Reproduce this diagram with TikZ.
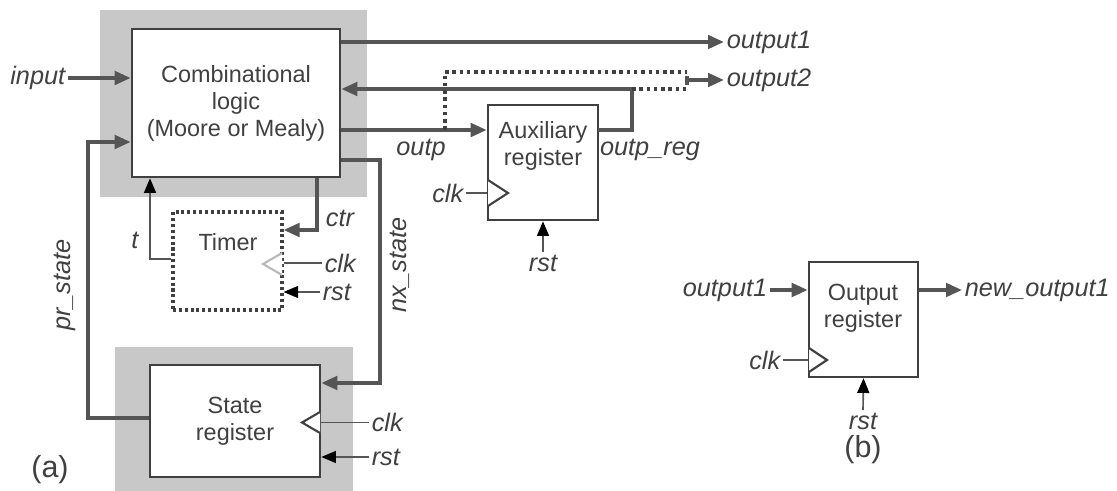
\documentclass[tikz,border=0pt]{standalone}
\usepackage{fontspec}
\setmainfont{Liberation Sans}
\usetikzlibrary{arrows.meta,positioning,calc}
\definecolor{wire}{HTML}{555555}
\definecolor{panelgray}{HTML}{C8C8C8}
\definecolor{ink}{HTML}{404040}

\begin{document}
\begin{tikzpicture}[
  x=0.015cm, y=-0.015cm,
  block/.style={rectangle, draw=ink, line width=1.1pt, fill=white, inner sep=0pt,
                align=center, text=ink, font=\fontsize{10}{11.5}\selectfont},
  btext/.style={align=center, text=ink, font=\fontsize{10}{11.5}\selectfont},
  bus/.style={draw=wire, line width=1.6pt},
  sig/.style={bus, -{Triangle[length=2.4mm,width=2mm]}},
  clkline/.style={draw=wire, line width=0.7pt},
  rstarrow/.style={clkline, -{Triangle[length=2.2mm,width=1.8mm,black]}},
  clktri/.style={draw=ink, line width=0.9pt, fill=white},
  dotwire/.style={draw=ink, line width=1.5pt, dash pattern=on 1.5pt off 1.6pt},
  lbl/.style={text=ink, font=\fontsize{10.8}{12}\selectfont\itshape, inner sep=1pt},
  partcap/.style={text=ink, font=\fontsize{13}{15}\selectfont}
]
\useasboundingbox (0,0) rectangle (1117,491);

% Shaded panels
\fill[panelgray] (100,10) rectangle (367,197);
\fill[panelgray] (115,347) rectangle (353,491);

% Blocks
\node[block, minimum width=3.12cm, minimum height=2.22cm] (comb) at (236,103)
  {Combinational\\logic\\(Moore or Mealy)};
\node[block, minimum width=1.635cm, minimum height=1.47cm, line width=1.3pt,
      dash pattern=on 1.3pt off 1.2pt] (timer) at (227.5,261) {};
\node[btext] (timertxt) at (228,242) {Timer};
\node[block, minimum width=1.65cm, minimum height=1.725cm] (aux) at (543,162.5) {};
\node[btext] (auxtxt) at (543,146) {Auxiliary\\register};
\node[block, minimum width=2.55cm, minimum height=1.68cm] (state) at (235,421)
  {State\\register};
\node[block, minimum width=1.635cm, minimum height=1.725cm] (outreg) at (863.5,319.5) {};
\node[btext] (outregtxt) at (863,308) {Output\\register};

% Clock inputs
\draw[clktri, draw=gray!55] (282,253) -- (263,264) -- (282,275);
\draw[clktri] (320,412) -- (302,422.5) -- (320,433);
\draw[clktri] (488,180) -- (508,193) -- (488,206);
\draw[clktri] (809,348) -- (827,360) -- (809,372);

% Labels
\node[lbl, anchor=east] (inlbl) at (68,78) {input};
\node[lbl, anchor=west] (out1) at (724,42) {output1};
\node[lbl, anchor=west] (out2) at (724,80) {output2};
\node[lbl] (outplbl) at (421,150) {outp};
\node[lbl] (oreglbl) at (650,150) {outp\_reg};
\node[lbl] (ctrlbl) at (340,218) {ctr};
\node[lbl] (tlbl) at (135,240) {t};
\node[lbl, rotate=90] (prlbl) at (65,285) {pr\_state};
\node[lbl, rotate=90] (nxlbl) at (400,265) {nx\_state};
\node[lbl, anchor=west] (tclk) at (322,263) {clk};
\node[lbl, anchor=west] (trst) at (320,292) {rst};
\node[lbl, anchor=west] (sclk) at (369,422.5) {clk};
\node[lbl, anchor=west] (srst) at (369,457) {rst};
\node[lbl, anchor=east] (aclk) at (466,193) {clk};
\node[lbl, anchor=north] (arst) at (543,252) {rst};
\node[lbl, anchor=east] (bin) at (770,290) {output1};
\node[lbl, anchor=west] (bout) at (962,290) {new\_output1};
\node[lbl, anchor=east] (bclk) at (783,360) {clk};
\node[lbl, anchor=north] (brst) at (863,410) {rst};
\node[partcap] (capa) at (50,470) {(a)};
\node[partcap] (capb) at (863,450) {(b)};

% Corner points
\coordinate (tapo) at (445,130);
\coordinate (oreg) at (598,130);
\coordinate (fbcorner) at (632,89);
\coordinate (o2top) at (687,72);
\coordinate (o2bot) at (687,89);
\coordinate (o2bar) at (687,80);
\coordinate (nxtop) at (380,160);
\coordinate (nxbot) at (380,383);
\coordinate (prbot) at (88,418);
\coordinate (prtop) at (88,142);
\coordinate (ctrc) at (317,230);
\coordinate (tc) at (150,259);

% Part (a) wires
\draw[sig] (inlbl.east) -- (inlbl.east -| comb.west);
\draw[sig] (out1.west -| comb.east) -- (out1.west);
\draw[sig] (tapo -| comb.east) -- (tapo -| aux.west);
\draw[sig] (oreg) -| (fbcorner) -- (fbcorner -| comb.east);
\draw[dotwire] (tapo) |- (o2top);
\draw[dotwire] (fbcorner) -- (o2bot);
\draw[bus] ([yshift=-1.5pt]o2top) -- ([yshift=1.5pt]o2bot);
\draw[sig] (o2bar) -- (out2.west);
\draw[sig] (nxtop -| comb.east) -- (nxtop) -- (nxbot) -- (nxbot -| state.east);
\draw[sig] (prbot -| state.west) -- (prbot) -- (prtop) -- (prtop -| comb.west);
\draw[sig] (ctrc |- comb.south) -- (ctrc) -- (ctrc -| timer.east);
\draw[rstarrow] (tc -| timer.west) -- (tc) -- (tc |- comb.south);
\draw[clkline] (tclk.west) -- (tclk.west -| timer.east);
\draw[rstarrow] (trst.west) -- (trst.west -| timer.east);
\draw[clkline] (sclk.west) -- (sclk.west -| state.east);
\draw[rstarrow] (srst.west) -- (srst.west -| state.east);
\draw[clkline] (aclk.east) -- (aclk.east -| aux.west);
\draw[rstarrow] (arst.north) -- (aux.south);

% Part (b) wires
\draw[sig] (bin.east) -- (bin.east -| outreg.west);
\draw[sig] (bout.west -| outreg.east) -- (bout.west);
\draw[clkline] (bclk.east) -- (bclk.east -| outreg.west);
\draw[rstarrow] (brst.north) -- (outreg.south);
\end{tikzpicture}
\end{document}
